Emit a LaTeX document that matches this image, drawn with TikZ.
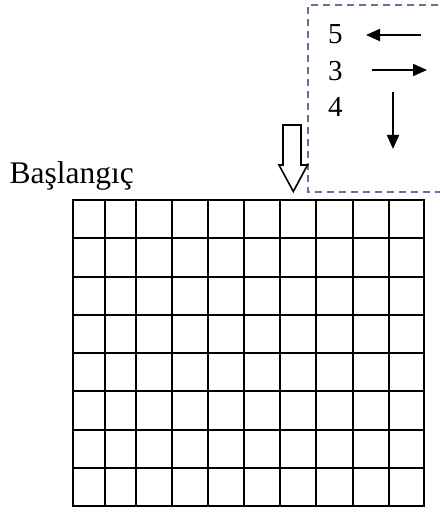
\documentclass[tikz,border=0pt]{standalone}
\usepackage{fontspec}
\setmainfont{Liberation Serif}
\usetikzlibrary{arrows.meta}
\definecolor{boxpurple}{RGB}{128,100,162}
\begin{document}
\begin{tikzpicture}[x=1pt,y=-1pt,
  lbl/.style={inner sep=0pt,anchor=base west,font=\fontsize{29}{29}\selectfont},
  gridline/.style={line width=2pt},
  movearrow/.style={line width=2pt,-{Triangle[length=14pt,width=12pt]}},
  dashbox/.style={boxpurple,line width=2pt,dash pattern=on 7pt off 5pt}]
\useasboundingbox (0,0) rectangle (439,513);
% dashed box (right side runs off the picture)
\draw[dashbox] (450,5) -- (308,5) -- (308,192) -- (450,192);
% legend labels
\node[lbl] (n5) at (328,43.5) {5};
\node[lbl] (n3) at (328,80.5) {3};
\node[lbl] (n4) at (328,117) {4};
\coordinate (l5s) at (421,35);
\coordinate (l5e) at (366,35);
\coordinate (r3s) at (372,70);
\coordinate (r3e) at (427,70);
\coordinate (d4s) at (393,92);
\coordinate (d4e) at (393,149);
\draw[movearrow] (l5s) -- (l5e);
\draw[movearrow] (r3s) -- (r3e);
\draw[movearrow] (d4s) -- (d4e);
% hollow start arrow
\draw[line width=1.6pt,fill=white,line join=miter]
  (283,125) -- (301,125) -- (301,165) -- (307.5,165) -- (293.3,191.5)
  -- (279,165) -- (283,165) -- cycle;
% start label
\node[inner sep=0pt,anchor=base west,font=\fontsize{31.5}{31.5}\selectfont] (start) at (9.5,183.5) {Başlangıç};
% grid
\foreach \x in {73,105,136,172,208,244,280,316,353,389,424}
  \draw[gridline] (\x,200) -- (\x,506);
\foreach \y in {200,238,277,315,353,391,430,468,506}
  \draw[gridline] (72,\y) -- (425,\y);
\end{tikzpicture}
\end{document}
